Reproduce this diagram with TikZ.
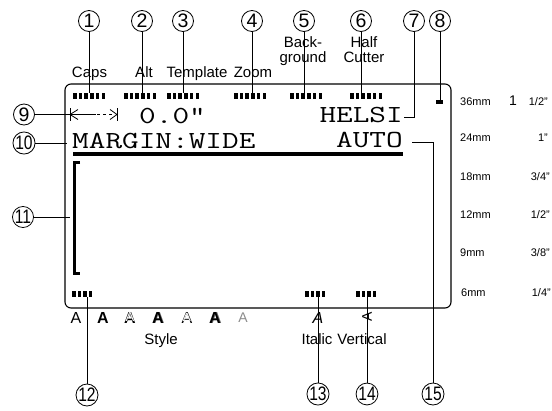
\documentclass[tikz,border=0pt]{standalone}
\usepackage{fontspec}
\setsansfont{Liberation Sans}
\usepackage{graphicx}
\newcommand\lcd[1]{\scalebox{1.32}[1]{\ttfamily\fontsize{24.5}{24.5}\selectfont #1}}
\newcommand\twodig[1]{\scalebox{0.8}[1]{#1}}
\tikzset{
  num/.style={circle,draw,line width=0.8pt,minimum size=21pt,inner sep=0pt,
    font=\sffamily\fontsize{19.5}{19.5}\selectfont},
  lbl/.style={inner sep=0pt,anchor=base,align=center,font=\sffamily\fontsize{15}{15}\selectfont},
  lcdtext/.style={inner sep=0pt},
  tape/.style={inner sep=0pt,font=\sffamily\fontsize{11}{11}\selectfont},
  sty/.style={inner sep=0pt,anchor=base,font=\sffamily\fontsize{16}{16}\selectfont},
}
\begin{document}
\begin{tikzpicture}[x=1pt,y=-1pt]
  \useasboundingbox (0,0) rectangle (552,410);
  % display frame
  \draw[line width=1.1pt,rounded corners=6pt] (65,84) rectangle (451,308);
  % circled numbers
  \draw
    (89,21) node[num] (1){1}
    (142,21) node[num] (2){2}
    (183,21) node[num] (3){3}
    (252,21) node[num] (4){4}
    (304,21) node[num] (5){5}
    (361,21) node[num] (6){6}
    (414,21) node[num] (7){7}
    (440,21) node[num] (8){8}
    (24,114.5) node[num] (9){9}
    (24,143) node[num] (10){\twodig{10}}
    (23,217) node[num] (11){\twodig{11}}
    (87,395) node[num] (12){\twodig{12}}
    (318,394) node[num] (13){\twodig{13}}
    (367,394) node[num] (14){\twodig{14}}
    (433,394) node[num] (15){\twodig{15}};
  % indicator labels
  \draw
    (89.5,77) node[lbl] (caps){Caps}
    (144,77) node[lbl] (alt){Alt}
    (197,77) node[lbl] (tmpl){Template}
    (253,77) node[lbl] (zoom){Zoom}
    (303,62) node[lbl] (back){Back-\\ground}
    (364,62) node[lbl] (half){Half\\Cutter};
  % indicator marks
  \foreach \x in {73,124,167,234,290,350}
    \foreach \i in {0,...,5}
      \fill (\x+\i*5.7,93) rectangle +(3.6,6);
  \foreach \x in {72,305,356}
    \foreach \i in {0,...,3}
      \fill (\x+\i*5.5,291) rectangle +(3.6,6);
  \fill (436,100) rectangle (443,104);
  % margin symbol
  \draw[line width=0.8pt] (70,108) -- (70,121) (117,108) -- (117,121);
  \draw[line width=0.8pt] (78,109.5) -- (70,114.5) -- (78,119.5);
  \draw[line width=0.8pt] (110,109.5) -- (117,114.5) -- (110,119.5);
  \draw[line width=0.8pt] (70,114.5) -- (96,114.5);
  \draw[line width=0.8pt,dash pattern=on 3pt off 3pt] (97,114.5) -- (112,114.5);
  % display texts
  \node[lcdtext,anchor=base west] (zero) at (139,123) {\lcd{0.0"}};
  \node[lcdtext,anchor=base west] (margin) at (72,148) {\lcd{MARGIN:WIDE}};
  \node[lcdtext,anchor=base east] (helsi) at (403,122) {\lcd{HELSI}};
  \node[lcdtext,anchor=base east] (auto) at (403,147) {\lcd{AUTO}};
  \draw[line width=4pt] (73,154) -- (403,154);
  % cursor bracket
  \draw[line width=3pt] (80,162.5) -- (74.5,162.5) -- (74.5,273.5) -- (80,273.5);
  % style row
  \node[sty] (s1) at (76,323) {A};
  \node[sty] (s2) at (103,323) {\bfseries A};
  \node[sty] (s3) at (130,323) {\bfseries A};
  \node[sty,text=white,font=\sffamily\fontsize{13}{13}\selectfont] at (130,321.5) {A};
  \node[sty,text=black!60] at (158.6,323.6) {\bfseries A};
  \node[sty] (s4) at (158,323) {\bfseries A};
  \node[sty] (s5) at (187,323) {A};
  \node[sty,text=white,font=\sffamily\fontsize{12}{12}\selectfont] at (187,321.5) {A};
  \node[sty,text=black!60] at (215.8,323.8) {\bfseries A};
  \node[sty] (s6) at (215,323) {\bfseries A};
  \node[sty,text=black!45,font=\sffamily\fontsize{14}{14}\selectfont] (s7) at (243,322) {A};
  \node[sty] (ital) at (318,323) {\itshape A};
  \node[inner sep=0pt,rotate=90,font=\sffamily\fontsize{14}{14}\selectfont] (vert) at (367,317) {A};
  \draw
    (161,344) node[lbl] (style){Style}
    (317,344) node[lbl] (italic){Italic}
    (362,344) node[lbl] (vertical){Vertical};
  % tape widths
  \draw
    (460,102) node[tape,anchor=west] (t36){36mm}
    (460,138) node[tape,anchor=west] (t24){24mm}
    (460,177) node[tape,anchor=west] (t18){18mm}
    (460,215) node[tape,anchor=west] (t12){12mm}
    (460,253) node[tape,anchor=west] (t9){9mm}
    (461,293) node[tape,anchor=west] (t6){6mm}
    (513,101) node[inner sep=0pt,font=\sffamily\fontsize{14}{14}\selectfont] (i36){1}
    (548,102) node[tape,anchor=east] (f36){1/2"}
    (548,138) node[tape,anchor=east] (i24){1"}
    (550,177) node[tape,anchor=east] (i18){3/4"}
    (550,215) node[tape,anchor=east] (i12){1/2"}
    (550,253) node[tape,anchor=east] (i9){3/8"}
    (551,293) node[tape,anchor=east] (i6){1/4"};
  % leader ends
  \coordinate (m1) at (89,93);
  \coordinate (m2) at (142,93);
  \coordinate (m3) at (183,93);
  \coordinate (m4) at (252,93);
  \coordinate (m5) at (304,93);
  \coordinate (m6) at (361,93);
  \coordinate (m7) at (404,117);
  \coordinate (m8) at (440,100);
  \coordinate (m9) at (70,114.5);
  \coordinate (m10) at (67,143);
  \coordinate (m11) at (70,217);
  \coordinate (m12) at (87,297);
  \coordinate (m13) at (318,297);
  \coordinate (m14) at (367,297);
  \coordinate (m15) at (412,142);
  \begin{scope}[line width=0.8pt]
    \draw (1) to (m1);
    \draw (2) to (m2);
    \draw (3) to (m3);
    \draw (4) to (m4);
    \draw (5) to (m5);
    \draw (6) to (m6);
    \draw (7) |- (m7);
    \draw (8) to (m8);
    \draw (9) to (m9);
    \draw (10) to (m10);
    \draw (11) to (m11);
    \draw (12) to (m12);
    \draw (13) to (m13);
    \draw (14) to (m14);
    \draw (m15) -| (15);
  \end{scope}
\end{tikzpicture}
\end{document}
